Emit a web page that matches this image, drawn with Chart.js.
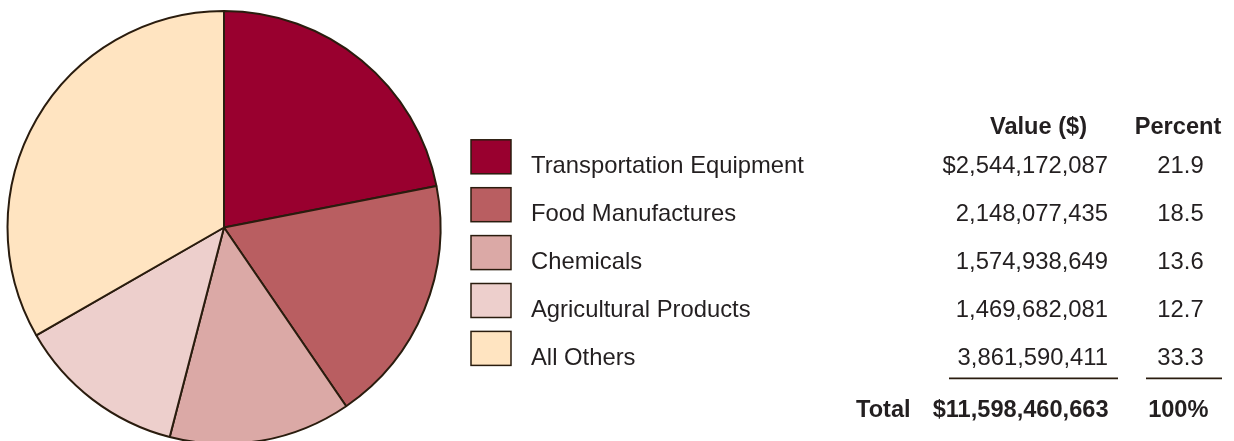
<!DOCTYPE html>
<html>
<head>
<meta charset="utf-8">
<script src="https://cdn.jsdelivr.net/npm/chart.js@4.4.1/dist/chart.umd.min.js"></script>
<style>
    html, body { margin: 0; padding: 0; background: #fff; overflow: hidden; }
    #wrap { width: 1234px; height: 441px; overflow: hidden; }
    canvas { display: block; }
</style>
</head>
<body>
<div id="wrap">
    <canvas id="pie" width="1234" height="455"></canvas>
</div>
<script>
var categories = ['Transportation Equipment', 'Food Manufactures', 'Chemicals', 'Agricultural Products', 'All Others'];
var values = [2544172087, 2148077435, 1574938649, 1469682081, 3861590411];
var valueLabels = ['$2,544,172,087', '2,148,077,435', '1,574,938,649', '1,469,682,081', '3,861,590,411'];
var percentLabels = ['21.9', '18.5', '13.6', '12.7', '33.3'];
var totalLabel = '$11,598,460,663';
var totalPercentLabel = '100%';
var colors = ['#99002f', '#b95e61', '#dba9a6', '#edcfcc', '#ffe4c1'];

var lineColor = '#2a1c0e';
var textColor = '#231f20';
var font = '23.8px "Liberation Sans", Arial, sans-serif';
var boldFont = 'bold 23.6px "Liberation Sans", Arial, sans-serif';

// legend boxes + value table on the right side of the canvas
var tablePlugin = {
    id: 'valueTable',
    afterDraw: function(chart) {
        var ctx = chart.ctx;
        var labels = chart.data.labels;
        var bg = chart.data.datasets[0].backgroundColor;
        var rowStep = 47.9;
        var firstBaseline = 173;

        ctx.save();
        ctx.fillStyle = textColor;
        ctx.font = boldFont;
        ctx.textBaseline = 'alphabetic';
        ctx.textAlign = 'right';
        ctx.fillText('Value ($)', 1087, 134.3);
        ctx.textAlign = 'center';
        ctx.fillText('Percent', 1178, 134.3);

        for (var i = 0; i < labels.length; i++) {
            var base = firstBaseline + i * rowStep;
            var boxTop = 139.8 + i * rowStep;

            ctx.fillStyle = bg[i];
            ctx.fillRect(471, boxTop, 40, 34);
            ctx.strokeStyle = lineColor;
            ctx.lineWidth = 1.5;
            ctx.strokeRect(471, boxTop, 40, 34);

            ctx.fillStyle = textColor;
            ctx.font = font;
            ctx.textAlign = 'left';
            ctx.fillText(labels[i], 531, base);
            ctx.textAlign = 'right';
            ctx.fillText(valueLabels[i], 1108, base);
            ctx.textAlign = 'center';
            ctx.fillText(percentLabels[i], 1180.5, base);
        }

        // rules above the totals
        ctx.strokeStyle = lineColor;
        ctx.lineWidth = 1.7;
        ctx.beginPath();
        ctx.moveTo(949, 378.3);
        ctx.lineTo(1118, 378.3);
        ctx.moveTo(1146, 378.3);
        ctx.lineTo(1222, 378.3);
        ctx.stroke();

        ctx.fillStyle = textColor;
        ctx.font = boldFont;
        ctx.textAlign = 'left';
        ctx.fillText('Total', 856, 416.7);
        ctx.textAlign = 'right';
        ctx.fillText(totalLabel, 1108.5, 416.7);
        ctx.textAlign = 'center';
        ctx.fillText(totalPercentLabel, 1178.3, 416.7);
        ctx.restore();
    }
};

var ctx = document.getElementById('pie').getContext('2d');
var pieChart = new Chart(ctx, {
    type: 'pie',
    data: {
        labels: categories,
        datasets: [{
            data: values,
            backgroundColor: colors,
            borderColor: lineColor,
            borderWidth: 2,
            radius: 216.5
        }]
    },
    options: {
        responsive: false,
        animation: false,
        layout: {
            padding: { left: 0, top: 0, bottom: 0, right: 786 }
        },
        plugins: {
            legend: { display: false },
            tooltip: { enabled: false }
        }
    },
    plugins: [tablePlugin]
});
</script>
</body>
</html>
